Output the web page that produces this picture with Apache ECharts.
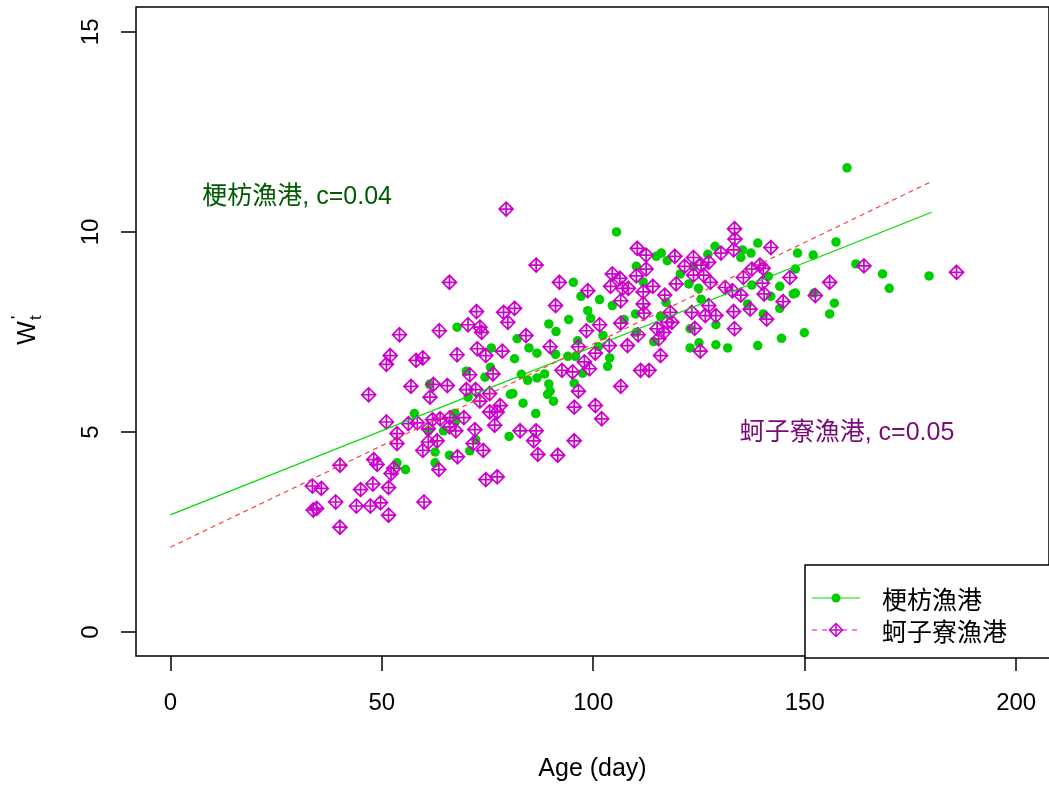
<!DOCTYPE html>
<html>
<head>
<meta charset="utf-8">
<script src="https://cdn.jsdelivr.net/npm/echarts@6/dist/echarts.min.js"></script>
<style>
html,body{margin:0;padding:0;background:#fff;}
#c{width:1049px;height:787px;}
</style>
</head>
<body>
<div id="c"></div>
<script>
// ---- Data ----
// 梗枋漁港 (green filled dots)
const gengAge = [75.9,70.0,74.4,75.7,61.3,70.4,80.4,57.7,67.3,67.5,61.0,64.6,72.2,70.8,62.6,66.0,62.6,53.6,55.6,80.1,81.4,67.8,82.0,
  105.5,116.1,114.9,117.5,128.8,127.1,110.2,120.6,123.7,95.3,97.1,101.5,104.5,111.8,122.6,124.9,117.2,125.5,110.0,98.7,99.4,94.2,89.5,91.2,84.8,102.3,107.3,110.2,114.3,129.0,129.0,122.9,96.3,122.9,115.9,
  160.0,138.9,137.3,134.9,135.3,148.3,152.0,157.4,147.8,141.4,144.1,137.5,147.3,147.8,142.0,144.1,152.2,157.0,155.9,136.5,140.2,162.1,168.4,170.0,179.4,149.9,144.5,138.9,
  86.7,91.1,94.0,95.8,103.9,103.4,101.2,83.0,84.5,86.7,88.5,89.5,89.2,89.8,90.6,83.4,86.4,95.5,97.5,131.8,81.0,125.0];
const gengW = [7.10,6.52,6.37,6.62,6.19,5.87,5.94,5.46,5.47,5.28,5.03,5.03,4.81,4.53,4.50,4.42,4.23,4.23,4.06,4.89,6.83,7.62,7.33,
  10.00,9.47,9.39,9.28,9.64,9.44,9.14,8.95,9.14,8.74,8.39,8.31,8.16,8.75,8.70,8.59,8.24,8.32,7.95,8.03,7.84,7.81,7.70,7.51,7.10,7.41,7.81,7.49,7.26,7.68,7.18,7.10,7.28,7.58,7.89,
  11.60,9.72,9.47,9.36,9.55,9.47,9.42,9.75,9.07,8.89,8.64,8.67,8.45,8.47,8.39,8.09,8.47,8.22,7.95,8.20,7.95,9.20,8.95,8.59,8.90,7.48,7.34,7.16,
  6.97,6.94,6.89,6.89,6.85,6.64,7.13,6.44,6.29,6.35,6.45,6.20,5.94,6.02,5.77,5.72,5.46,6.22,6.47,7.10,5.96,7.23];

// 蚵子寮漁港 (magenta diamond-plus)
const keAge = [52.0,51.1,58.1,59.7,67.8,72.6,74.6,78.5,70.8,76.3,46.9,56.9,62.2,65.5,61.4,70.0,72.2,75.5,73.2,75.5,78.0,77.3,
  51.1,53.6,53.6,56.3,58.4,62.0,63.8,66.1,69.4,61.0,66.0,67.5,72.0,76.7,61.0,63.1,59.7,71.6,74.0,67.9,40.1,48.1,48.9,52.8,52.2,63.5,74.6,77.3,
  33.6,35.7,45.0,47.9,51.6,39.1,44.0,47.3,49.7,60.0,33.8,34.6,51.6,40.1,
  79.4,66.0,72.4,78.8,81.4,79.8,70.4,73.2,73.6,63.6,54.2,
  86.5,92.0,98.7,91.1,84.1,98.4,101.5,106.5,104.5,106.3,110.2,110.4,112.5,112.5,104.1,106.9,108.3,106.5,111.8,114.1,116.9,111.8,112.0,
  119.3,123.7,121.6,119.6,123.7,125.5,127.3,126.1,127.7,130.2,133.2,133.4,133.5,131.2,132.9,127.3,126.5,129.0,123.3,124.0,133.2,133.4,118.2,118.6,115.1,116.7,117.5,110.6,115.5,
  142.0,139.4,137.5,140.2,135.5,146.5,140.0,164.0,185.9,134.9,140.4,144.9,152.5,155.9,137.1,141.0,
  89.8,96.5,100.5,103.8,108.1,115.9,125.3,97.9,99.1,92.6,95.1,111.2,113.2,106.5,96.5,95.5,100.5,102.0,82.7,86.5,85.9,95.5,86.9,91.6];
const keW = [6.91,6.69,6.79,6.85,6.93,7.08,6.91,7.02,6.43,6.45,5.93,6.14,6.19,6.16,5.87,6.06,6.06,5.96,5.77,5.50,5.66,5.50,
  5.25,4.96,4.71,5.21,5.23,5.31,5.33,5.36,5.36,5.08,5.13,5.03,5.06,5.17,4.75,4.78,4.54,4.71,4.54,4.38,4.17,4.31,4.19,4.09,3.96,4.06,3.81,3.88,
  3.65,3.59,3.56,3.70,3.61,3.25,3.15,3.15,3.23,3.25,3.05,3.09,2.92,2.62,
  10.57,8.74,8.01,7.99,8.09,7.74,7.68,7.62,7.49,7.53,7.43,
  9.17,8.74,8.53,8.16,7.41,7.53,7.68,7.72,8.95,8.84,8.90,9.59,9.42,9.07,8.64,8.59,8.59,8.28,8.50,8.64,8.42,8.20,7.97,
  9.39,9.36,9.14,8.70,8.92,9.17,9.24,8.92,8.74,9.47,9.55,10.08,9.82,8.61,8.53,8.16,7.91,7.91,7.99,7.59,8.01,7.58,7.99,7.74,7.58,7.49,7.74,7.43,7.33,
  9.61,9.17,9.07,9.09,8.86,8.86,8.72,9.15,8.99,8.42,8.45,8.26,8.41,8.74,8.07,7.82,
  7.13,7.13,6.97,7.16,7.16,6.91,7.02,6.75,6.58,6.54,6.50,6.54,6.54,6.14,6.02,5.62,5.66,5.33,5.03,5.03,4.78,4.78,4.44,4.42];

// fitted lines (end points)
const fitAge = [0, 180];
const gengFit = [2.93, 10.49];
const keFit = [2.12, 11.26];

const xTicks = [0, 50, 100, 150, 200];
const yTicks = [0, 5, 10, 15];

const seriesNames = ['梗枋漁港', '蚵子寮漁港'];
const notes = [
  {x: 30, y: 10.87, text: '梗枋漁港, c=0.04'},
  {x: 160, y: 4.97, text: '蚵子寮漁港, c=0.05'}
];

// ---- styles ----
const GREEN_PT = '#00CD00';
const MAG_PT = '#CD00CD';
const GREEN_LINE = '#00DD00';
const RED_LINE = '#FF4040';
const FONT = '"Liberation Sans", Arial, "Noto Sans CJK TC", sans-serif';
const CJK = '"Noto Sans CJK TC", "Liberation Sans", sans-serif';
const DIAMOND = 'path://M0,-10L10,0L0,10L-10,0ZM0,-10L0,10M-10,0L10,0';

const zip = (a, b) => a.map((v, i) => [v, b[i]]);

const chart = echarts.init(document.getElementById('c'), null, {renderer: 'canvas'});

chart.setOption({
  animation: false,
  backgroundColor: '#fff',
  grid: {left: 136, top: 7, right: -5, bottom: 129, show: true, borderColor: '#000', borderWidth: 1.5, backgroundColor: 'transparent'},
  xAxis: {
    type: 'value', min: -8.11, max: 207.76,
    splitLine: {show: false}, axisLine: {show: false, onZero: false},
    axisTick: {show: true, length: 15, inside: false, customValues: xTicks, lineStyle: {color: '#000', width: 1.5}},
    axisLabel: {customValues: xTicks, margin: 35, fontSize: 24, color: '#000', fontFamily: FONT},
    name: 'Age (day)', nameLocation: 'middle', nameGap: 101,
    nameTextStyle: {fontSize: 25, color: '#000', fontFamily: FONT}
  },
  yAxis: {
    type: 'value', min: -0.598, max: 15.62,
    splitLine: {show: false}, axisLine: {show: false, onZero: false},
    axisTick: {show: true, length: 15, inside: false, customValues: yTicks, lineStyle: {color: '#000', width: 1.5}},
    axisLabel: {customValues: yTicks, rotate: 90, margin: 33, fontSize: 24, color: '#000', fontFamily: FONT}
  },
  series: [
    {
      name: seriesNames[0], type: 'scatter', data: zip(gengAge, gengW),
      symbol: 'circle', symbolSize: 9.5, itemStyle: {color: GREEN_PT, opacity: 1}, z: 2
    },
    {
      name: seriesNames[1], type: 'scatter', data: zip(keAge, keW),
      symbol: DIAMOND, symbolSize: 14, symbolKeepAspect: true,
      itemStyle: {color: 'rgba(0,0,0,0)', borderColor: MAG_PT, borderWidth: 1.7, opacity: 1}, z: 3
    },
    {
      name: seriesNames[0] + ' fit', type: 'line', data: zip(fitAge, gengFit), showSymbol: false, symbol: 'none',
      lineStyle: {color: GREEN_LINE, width: 1.2, type: 'solid'}, z: 4, silent: true
    },
    {
      name: seriesNames[1] + ' fit', type: 'line', data: zip(fitAge, keFit), showSymbol: false, symbol: 'none',
      lineStyle: {color: RED_LINE, width: 1.2, type: [5, 4]}, z: 4, silent: true
    },
    {
      name: 'notes', type: 'scatter', symbolSize: 0, silent: true, z: 5,
      itemStyle: {opacity: 1},
      data: notes.map((n, i) => ({
        value: [n.x, n.y],
        label: {show: true, position: 'inside', formatter: n.text, fontSize: 25, fontFamily: FONT,
          textBorderWidth: 0, textShadowBlur: 0, opacity: 1,
          color: i === 0 ? '#005A00' : '#7A0A7A'}
      }))
    }
  ],
  graphic: [
    // y-axis title W_t'
    {
      type: 'group', x: 28, y: 333, rotation: Math.PI / 2, z: 100,
      children: [
        {type: 'text', style: {text: 'W', x: 0, y: 0, align: 'center', verticalAlign: 'middle', fontSize: 25, fontFamily: FONT, fill: '#000'}},
        {type: 'text', style: {text: 't', x: 13, y: 8, align: 'left', verticalAlign: 'middle', fontSize: 17, fontFamily: FONT, fill: '#000'}},
        {type: 'text', style: {text: "'", x: 14, y: -10, align: 'left', verticalAlign: 'middle', fontSize: 17, fontFamily: FONT, fill: '#000'}}
      ]
    },
    // legend box
    {type: 'rect', z: 100, shape: {x: 805, y: 565, width: 300, height: 93}, style: {fill: '#fff', stroke: '#000', lineWidth: 1.5}},
    {type: 'line', z: 101, shape: {x1: 812, y1: 598, x2: 860, y2: 598}, style: {stroke: GREEN_LINE, lineWidth: 1.2}},
    {type: 'circle', z: 102, shape: {cx: 836, cy: 598, r: 4.5}, style: {fill: GREEN_PT}},
    {type: 'text', z: 102, style: {text: seriesNames[0], x: 882, y: 599, verticalAlign: 'middle', fontSize: 25, fontFamily: CJK, fill: '#000'}},
    {type: 'line', z: 101, shape: {x1: 812, y1: 630, x2: 860, y2: 630}, style: {stroke: '#E000E0', lineWidth: 1.2, lineDash: [5, 5]}},
    {type: 'polygon', z: 102, shape: {points: [[836, 623.5], [842.5, 630], [836, 636.5], [829.5, 630]]}, style: {fill: '#fff', stroke: MAG_PT, lineWidth: 1.5}},
    {type: 'line', z: 103, shape: {x1: 836, y1: 623.5, x2: 836, y2: 636.5}, style: {stroke: MAG_PT, lineWidth: 1.5}},
    {type: 'line', z: 103, shape: {x1: 829.5, y1: 630, x2: 842.5, y2: 630}, style: {stroke: MAG_PT, lineWidth: 1.5}},
    {type: 'text', z: 102, style: {text: seriesNames[1], x: 882, y: 631, verticalAlign: 'middle', fontSize: 25, fontFamily: CJK, fill: '#000'}}
  ]
});
</script>
</body>
</html>
